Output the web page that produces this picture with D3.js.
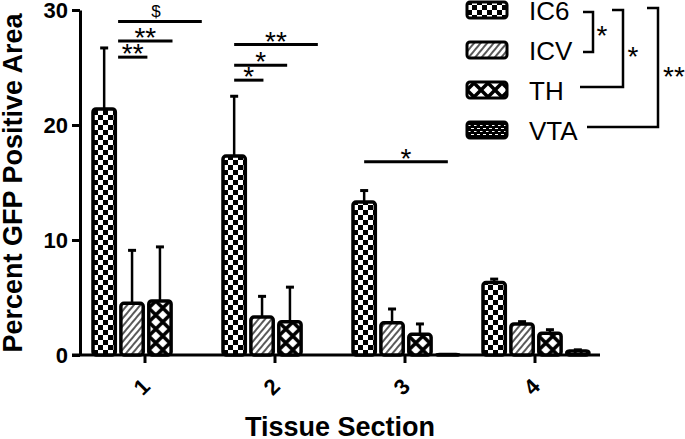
<!DOCTYPE html>
<html>
<head>
<meta charset="utf-8">
<script src="https://cdn.jsdelivr.net/npm/d3@7"></script>
<style>
  body { margin: 0; background: #fff; }
  svg { display: block; font-family: Arial, "Liberation Sans", sans-serif; }
</style>
</head>
<body>
<div id="chart"></div>
<script>
// data
const sections = ['1', '2', '3', '4'];
const series = ['IC6', 'ICV', 'TH', 'VTA'];
const ic6Mean = [21.4, 17.3, 13.3, 6.3];
const ic6Sem = [5.3, 5.2, 1.0, 0.3];
const icvMean = [4.5, 3.3, 2.8, 2.7];
const icvSem = [4.6, 1.8, 1.2, 0.2];
const thMean = [4.7, 2.9, 1.8, 1.9];
const thSem = [4.7, 3.0, 0.9, 0.3];
const vtaMean = [null, null, 0.05, 0.35];
const vtaSem = [null, null, 0, 0.1];
const yTicks = [0, 10, 20, 30];

// pairwise comparisons above the bars: section, from slot, to slot, height, label
const sigSections = ['1', '1', '1', '2', '2', '2', '3'];
const sigFrom = [0.5, 0.5, 0.5, 0, 0, 0, 0];
const sigTo = [1.55, 2.45, 3.5, 1.05, 1.9, 3, 3];
const sigLevel = [25.9, 27.3, 29.0, 23.9, 25.2, 27.0, 16.8];
const sigLabel = ['**', '**', '$', '*', '*', '**', '*'];

const width = 685;
const height = 439;

const means = [ic6Mean, icvMean, thMean, vtaMean];
const sems = [ic6Sem, icvSem, thSem, vtaSem];

const svg = d3.select('#chart').append('svg')
  .attr('width', width)
  .attr('height', height);

// fill patterns
const defs = svg.append('defs');

const checker = defs.append('pattern')
  .attr('id', 'p-IC6').attr('patternUnits', 'userSpaceOnUse')
  .attr('width', 10).attr('height', 10);
checker.append('rect').attr('width', 10).attr('height', 10).attr('fill', '#fff');
checker.append('rect').attr('width', 5).attr('height', 5).attr('fill', '#000');
checker.append('rect').attr('x', 5).attr('y', 5).attr('width', 5).attr('height', 5).attr('fill', '#000');

const hatch = defs.append('pattern')
  .attr('id', 'p-ICV').attr('patternUnits', 'userSpaceOnUse')
  .attr('width', 5).attr('height', 5)
  .attr('patternTransform', 'rotate(40)');
hatch.append('rect').attr('width', 5).attr('height', 5).attr('fill', '#fff');
hatch.append('line').attr('x1', 1).attr('x2', 1).attr('y1', 0).attr('y2', 5)
  .attr('stroke', '#000').attr('stroke-width', 1.3);

const cross = defs.append('pattern')
  .attr('id', 'p-TH').attr('patternUnits', 'userSpaceOnUse')
  .attr('width', 14).attr('height', 14);
cross.append('rect').attr('width', 14).attr('height', 14).attr('fill', '#fff');
cross.append('path').attr('d', 'M0,0L14,14M14,0L0,14')
  .attr('stroke', '#000').attr('stroke-width', 3.5);

const dashes = defs.append('pattern')
  .attr('id', 'p-VTA').attr('patternUnits', 'userSpaceOnUse')
  .attr('width', 6).attr('height', 6);
dashes.append('rect').attr('width', 6).attr('height', 6).attr('fill', '#000');
dashes.append('path').attr('d', 'M1,1.5H3.5M4,4.5H6M0,4.5H1')
  .attr('stroke', '#fff').attr('stroke-width', 1.2);

// scales
const x0 = d3.scaleBand().domain(sections).range([80, 600]);
const x1 = d3.scaleBand().domain(series).range([13, 119]).paddingInner(0.2);
const y = d3.scaleLinear().domain([0, 30]).range([355, 10]);
const slot = d3.scaleLinear().domain([0, 1]).range([x1('IC6') + x1.bandwidth() / 2, x1('ICV') + x1.bandwidth() / 2]);

// axes
const yAxis = svg.append('g')
  .attr('transform', 'translate(80,0)')
  .call(d3.axisLeft(y).tickValues(yTicks).tickSize(8).tickSizeOuter(0).tickPadding(4));
yAxis.select('.domain').attr('stroke-width', 3);
yAxis.selectAll('.tick line').attr('stroke-width', 3);
yAxis.selectAll('.tick text')
  .style('font-size', '22px').style('font-weight', 'bold').attr('fill', '#000');

const xAxis = svg.append('g')
  .attr('transform', 'translate(0,355)')
  .call(d3.axisBottom(x0).tickSize(8).tickSizeOuter(0));
xAxis.select('.domain').attr('d', 'M72,0H600').attr('stroke-width', 3);
xAxis.selectAll('.tick line').attr('stroke-width', 3);
xAxis.selectAll('.tick text')
  .attr('y', 0).attr('dy', 0)
  .attr('transform', 'translate(-2,33) rotate(-45)')
  .attr('text-anchor', 'middle')
  .attr('dominant-baseline', 'middle')
  .style('font-size', '22px').style('font-weight', 'bold').attr('fill', '#000');

// bars
const cells = [];
sections.forEach((s, i) => {
  series.forEach((k, j) => {
    if (means[j][i] !== null) {
      cells.push({ section: s, key: k, mean: means[j][i], sem: sems[j][i] });
    }
  });
});

const groups = svg.append('g').selectAll('g')
  .data(cells)
  .join('g')
  .attr('transform', (d) => `translate(${x0(d.section) + x1(d.key)},0)`);

// error bars (upper only)
groups.filter((d) => d.sem > 0).append('line')
  .attr('x1', x1.bandwidth() / 2).attr('x2', x1.bandwidth() / 2)
  .attr('y1', (d) => y(d.mean)).attr('y2', (d) => y(d.mean + d.sem))
  .attr('stroke', '#000').attr('stroke-width', 2.5);
groups.filter((d) => d.sem > 0).append('line')
  .attr('x1', x1.bandwidth() / 2 - 4).attr('x2', x1.bandwidth() / 2 + 4)
  .attr('y1', (d) => y(d.mean + d.sem)).attr('y2', (d) => y(d.mean + d.sem))
  .attr('stroke', '#000').attr('stroke-width', 3);

groups.append('rect')
  .attr('x', 0)
  .attr('y', (d) => y(d.mean))
  .attr('width', x1.bandwidth())
  .attr('height', (d) => y(0) - y(d.mean))
  .attr('rx', 3)
  .attr('fill', (d) => `url(#p-${d.key})`)
  .attr('stroke', '#000')
  .attr('stroke-width', 3.5);

// significance lines
const sig = sigSections.map((s, i) => ({
  xa: x0(s) + slot(sigFrom[i]),
  xb: x0(s) + slot(sigTo[i]),
  yv: y(sigLevel[i]),
  label: sigLabel[i]
}));

svg.append('g').selectAll('line')
  .data(sig)
  .join('line')
  .attr('x1', (d) => d.xa).attr('x2', (d) => d.xb)
  .attr('y1', (d) => d.yv).attr('y2', (d) => d.yv)
  .attr('stroke', '#000').attr('stroke-width', 3);

svg.append('g').selectAll('text')
  .data(sig)
  .join('text')
  .attr('x', (d) => (d.xa + d.xb) / 2 - (d.label === '$' ? 4 : 0))
  .attr('y', (d) => d.label === '$' ? d.yv - 5 : d.yv + 6)
  .attr('text-anchor', 'middle')
  .attr('fill', '#000')
  .style('font-size', (d) => d.label === '$' ? '17px' : '28px')
  .text((d) => d.label);

// legend
const legend = svg.append('g').selectAll('g')
  .data(series)
  .join('g')
  .attr('transform', (d, i) => `translate(467,${10 + i * 40})`);
legend.append('rect')
  .attr('x', 0).attr('y', -8).attr('width', 40).attr('height', 16).attr('rx', 3)
  .attr('fill', (d) => `url(#p-${d})`)
  .attr('stroke', '#000').attr('stroke-width', 3);
legend.append('text')
  .attr('x', 62).attr('y', 10)
  .attr('fill', '#000')
  .style('font-size', '26px')
  .text((d) => d);

// legend brackets
const brackets = svg.append('g').attr('fill', 'none').attr('stroke', '#000').attr('stroke-width', 2.5);
brackets.append('path').attr('d', 'M583,12H593V52H583');
brackets.append('path').attr('d', 'M612,10H623V87H580');
brackets.append('path').attr('d', 'M647,8H658V127H587');
const bracketText = svg.append('g').style('font-size', '28px').attr('fill', '#000');
bracketText.append('text').attr('x', 602).attr('y', 45).attr('text-anchor', 'middle').text('*');
bracketText.append('text').attr('x', 633).attr('y', 66).attr('text-anchor', 'middle').text('*');
bracketText.append('text').attr('x', 674).attr('y', 86).attr('text-anchor', 'middle').text('**');

// axis titles
svg.append('text')
  .attr('transform', 'translate(22,183) rotate(-90)')
  .attr('text-anchor', 'middle')
  .attr('fill', '#000')
  .style('font-size', '27px').style('font-weight', 'bold')
  .text('Percent GFP Positive Area');

svg.append('text')
  .attr('x', 340).attr('y', 436)
  .attr('text-anchor', 'middle')
  .attr('fill', '#000')
  .style('font-size', '27px').style('font-weight', 'bold')
  .text('Tissue Section');
</script>
</body>
</html>
